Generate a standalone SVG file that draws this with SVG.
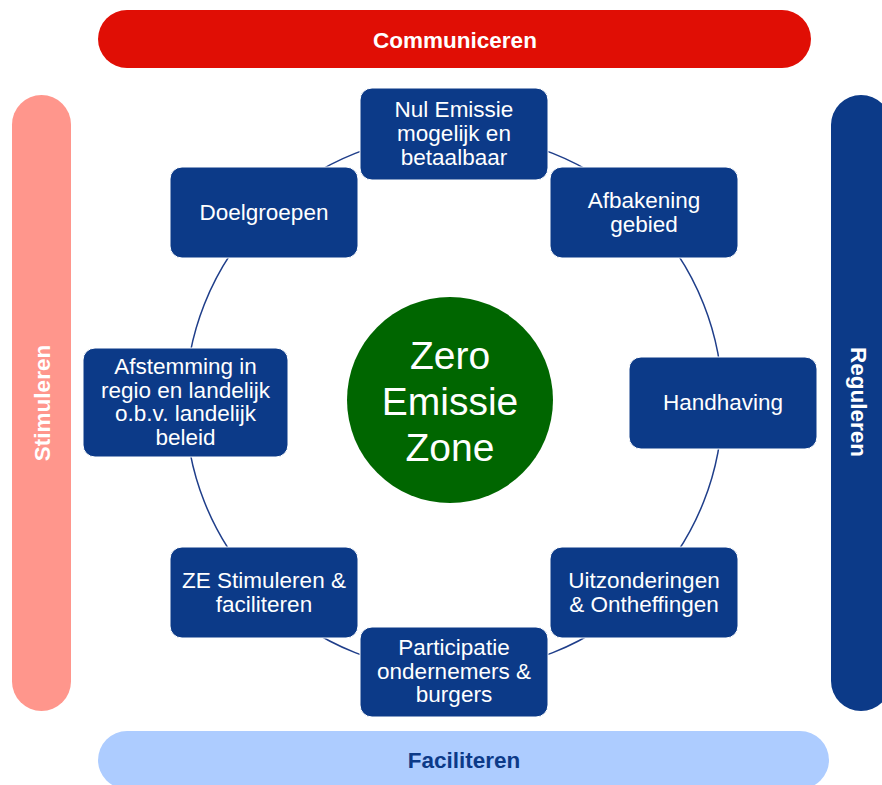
<svg xmlns="http://www.w3.org/2000/svg" width="882" height="785" viewBox="0 0 882 785">
  <style>
    .bar-label { font-family: "Liberation Sans", Arial, sans-serif; font-size: 22.5px; font-weight: bold; text-anchor: middle; }
    .node rect { fill: #0C3A88; stroke: #ffffff; stroke-width: 1; }
    .node text { font-family: "Liberation Sans", Arial, sans-serif; font-size: 22.5px; fill: #ffffff; text-anchor: middle; }
    .hub text { font-family: "Liberation Sans", Arial, sans-serif; font-size: 39px; fill: #ffffff; text-anchor: middle; }
    .ring { fill: none; stroke: #1F3E8A; stroke-width: 1.5; }
  </style>
  <rect width="882" height="785" fill="#ffffff"/>

  <!-- outer bands -->
  <g id="communiceren">
    <rect x="98" y="10" width="713" height="58" rx="29" fill="#E00E05"/>
    <text class="bar-label" x="455" y="48" fill="#ffffff">Communiceren</text>
  </g>
  <g id="stimuleren">
    <rect x="12" y="95" width="59" height="616" rx="29.5" fill="#FF968C"/>
    <text class="bar-label" transform="translate(50 403) rotate(-90)" fill="#ffffff">Stimuleren</text>
  </g>
  <g id="reguleren">
    <rect x="831" y="95" width="60" height="616" rx="30" fill="#0C3A88"/>
    <text class="bar-label" transform="translate(851 402) rotate(90)" fill="#ffffff">Reguleren</text>
  </g>
  <g id="faciliteren">
    <rect x="98" y="731" width="731" height="58" rx="29" fill="#ADCCFF"/>
    <text class="bar-label" x="464" y="768" fill="#0C3A88">Faciliteren</text>
  </g>

  <!-- cycle connector -->
  <g id="connectors">
    <circle class="ring" cx="454" cy="403" r="268.5"/>
  </g>

  <!-- centre -->
  <g id="zero-emissie-zone" class="hub">
    <circle cx="450" cy="400" r="103" fill="#006600"/>
    <text x="450" y="369">Zero</text>
    <text x="450" y="415">Emissie</text>
    <text x="450" y="461">Zone</text>
  </g>

  <!-- cycle nodes -->
  <g id="nul-emissie" class="node">
    <rect x="360" y="88" width="188" height="92" rx="12"/>
    <text x="454" y="117">Nul Emissie</text>
    <text x="454" y="141">mogelijk en</text>
    <text x="454" y="165">betaalbaar</text>
  </g>
  <g id="afbakening" class="node">
    <rect x="550" y="167" width="188" height="91" rx="12"/>
    <text x="644" y="208">Afbakening</text>
    <text x="644" y="232">gebied</text>
  </g>
  <g id="handhaving" class="node">
    <rect x="629" y="357" width="188" height="92" rx="12"/>
    <text x="723" y="410">Handhaving</text>
  </g>
  <g id="uitzonderingen" class="node">
    <rect x="550" y="547" width="188" height="91" rx="12"/>
    <text x="644" y="588">Uitzonderingen</text>
    <text x="644" y="612">&amp; Ontheffingen</text>
  </g>
  <g id="participatie" class="node">
    <rect x="360" y="627" width="188" height="90" rx="12"/>
    <text x="454" y="655">Participatie</text>
    <text x="454" y="679">ondernemers &amp;</text>
    <text x="454" y="702">burgers</text>
  </g>
  <g id="ze-stimuleren" class="node">
    <rect x="170" y="547" width="188" height="91" rx="12"/>
    <text x="264" y="588">ZE Stimuleren &amp;</text>
    <text x="264" y="612">faciliteren</text>
  </g>
  <g id="afstemming" class="node">
    <rect x="83" y="348" width="205" height="109" rx="12"/>
    <text x="185.5" y="374">Afstemming in</text>
    <text x="185.5" y="397.5">regio en landelijk</text>
    <text x="185.5" y="421">o.b.v. landelijk</text>
    <text x="185.5" y="445">beleid</text>
  </g>
  <g id="doelgroepen" class="node">
    <rect x="170" y="167" width="188" height="91" rx="12"/>
    <text x="264" y="220">Doelgroepen</text>
  </g>
</svg>
